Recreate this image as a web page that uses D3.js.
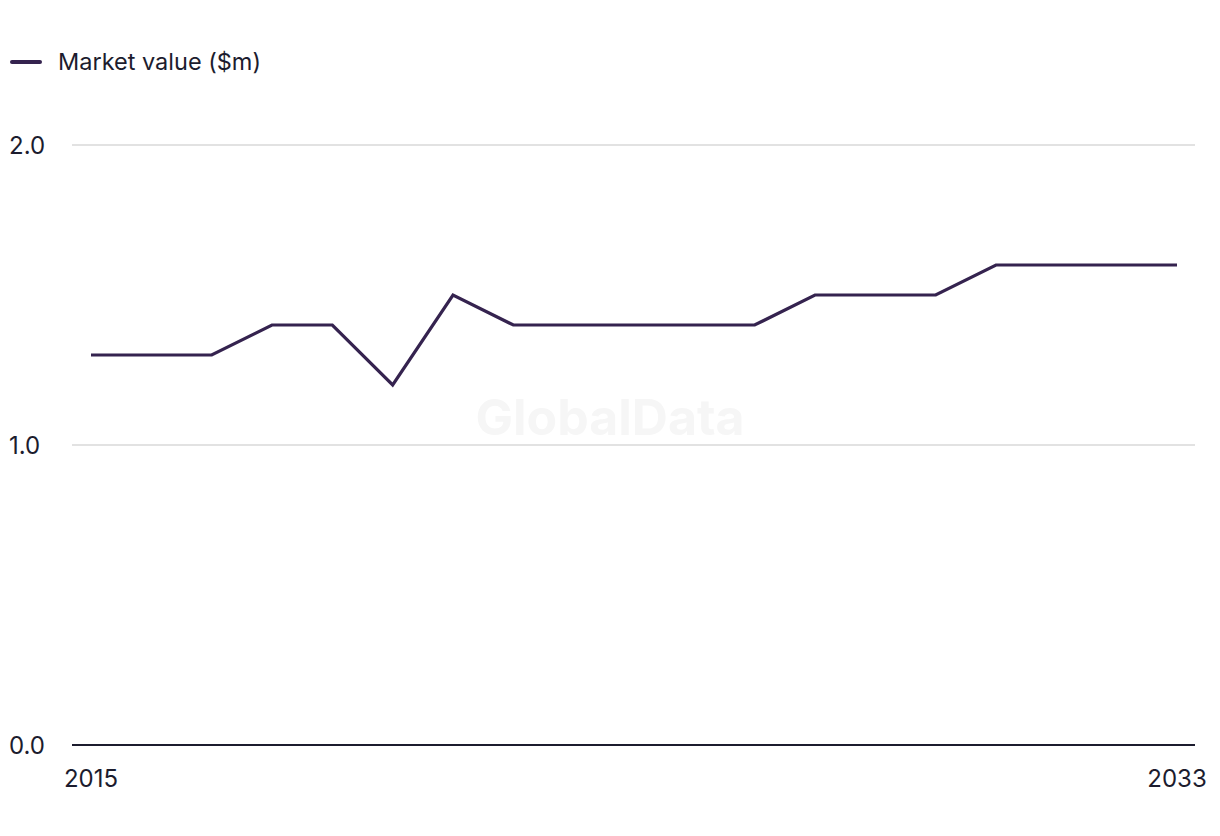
<!DOCTYPE html>
<html><head><meta charset="utf-8">
<script src="https://cdn.jsdelivr.net/npm/d3@7"></script>
<style>body{margin:0;background:#fff;font-family:Inter,"Liberation Sans",Arial,sans-serif;}</style>
</head><body><svg id="c" width="1220" height="836"></svg>
<script>
const years = [2015,2016,2017,2018,2019,2020,2021,2022,2023,2024,2025,2026,2027,2028,2029,2030,2031,2032,2033];
const marketValue = [1.3,1.3,1.3,1.4,1.4,1.2,1.5,1.4,1.4,1.4,1.4,1.4,1.5,1.5,1.5,1.6,1.6,1.6,1.6];
const yTicks = [0,1,2];
const xTickLabels = [2015,2033];
const seriesName = "Market value ($m)";
const color = "#35234f";

const svg = d3.select("#c").style("font-family","Inter, 'Liberation Sans', Arial, sans-serif");
const x = d3.scaleLinear().domain([2015,2033]).range([91,1177]);
const y = d3.scaleLinear().domain([0,2]).range([745,145]);

// watermark
svg.append("text").attr("x",610).attr("y",435).attr("text-anchor","middle")
  .attr("font-size",50).attr("font-weight","bold").attr("fill","#f6f6f6").text("GlobalData");

// grid
svg.append("g").selectAll("line").data(yTicks.filter(d=>d>0)).join("line")
  .attr("x1",72).attr("x2",1195).attr("y1",d=>y(d)).attr("y2",d=>y(d))
  .attr("stroke","#d9d9d9").attr("stroke-width",1.5);
svg.append("line").attr("x1",72).attr("x2",1195).attr("y1",y(0)).attr("y2",y(0))
  .attr("stroke","#1c1c2e").attr("stroke-width",2);

// y labels
svg.append("g").selectAll("text").data(yTicks).join("text")
  .attr("x",9).attr("y",d=>y(d)+9).attr("font-size",24).attr("fill","#1c1c2e")
  .text(d=>d3.format(".1f")(d));

// x labels
svg.append("g").selectAll("text").data(xTickLabels).join("text")
  .attr("x",d=>x(d)).attr("y",787).attr("text-anchor","middle").attr("font-size",24).attr("fill","#1c1c2e")
  .text(d=>d);

// line
svg.append("path").datum(years.map((yr,i)=>[yr,marketValue[i]]))
  .attr("d",d3.line().x(d=>x(d[0])).y(d=>y(d[1])))
  .attr("fill","none").attr("stroke",color).attr("stroke-width",3.2).attr("stroke-linejoin","miter");

// legend
svg.append("line").attr("x1",12).attr("x2",40).attr("y1",62).attr("y2",62)
  .attr("stroke",color).attr("stroke-width",4).attr("stroke-linecap","round");
svg.append("text").attr("x",58).attr("y",70).attr("font-size",23.5).attr("fill","#1c1c2e").text(seriesName);
</script></body></html>
